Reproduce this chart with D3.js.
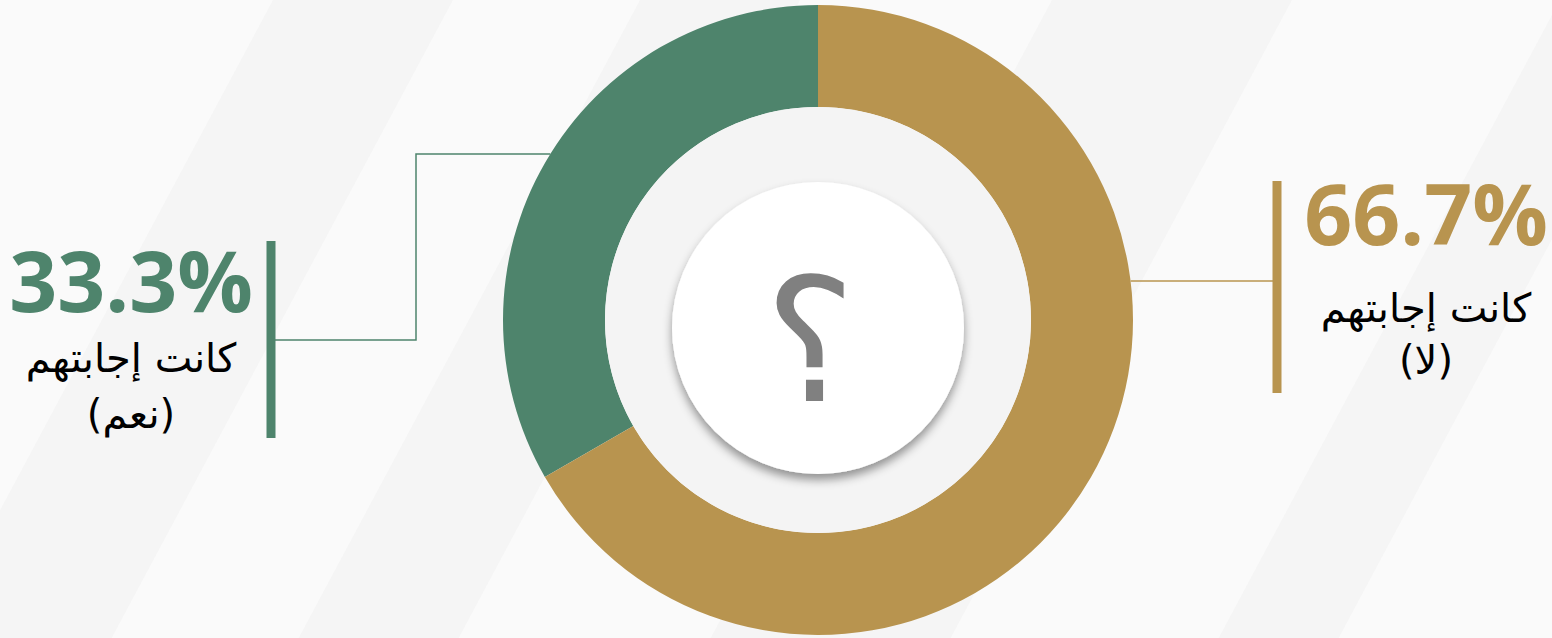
<!DOCTYPE html>
<html>
<head>
<meta charset="utf-8">
<script src="https://cdn.jsdelivr.net/npm/d3@7/dist/d3.min.js"></script>
<style>
  body { margin: 0; background: #fafafa; }
  svg { display: block; }
</style>
</head>
<body>
<div id="chart"></div>
<script>
// data
var answers = ["نعم", "لا"];
var shares = [33.3, 66.7];
var colors = ["#4e846c", "#b8944f"];
var question = "كانت إجابتهم";

(function() {
  var width = 1552, height = 638;
  var cx = 818, cy = 320;
  var outerR = 315, innerR = 213, discR = 146;

  var svg = d3.select("#chart")
    .append("svg")
    .attr("width", width)
    .attr("height", height);

  var defs = svg.append("defs");
  var f = defs.append("filter").attr("id", "shadow")
    .attr("x", "-20%").attr("y", "-20%").attr("width", "140%").attr("height", "140%");
  f.append("feDropShadow")
    .attr("dx", 0).attr("dy", 6).attr("stdDeviation", 5)
    .attr("flood-color", "#000").attr("flood-opacity", 0.4);

  // background with soft diagonal bands
  svg.append("rect").attr("width", width).attr("height", height).attr("fill", "#fafafa");
  var bands = [[273, 180], [640, 160], [1052, 240], [1560, 120]];
  svg.selectAll(".band")
    .data(bands)
    .enter().append("path")
    .attr("class", "band")
    .attr("fill", "#f5f5f5")
    .attr("d", function(d) {
      var k = 0.535 * height;
      return "M" + d[0] + ",0 L" + (d[0] + d[1]) + ",0 L" + (d[0] + d[1] - k) + "," + height +
        " L" + (d[0] - k) + "," + height + "Z";
    });

  var color = d3.scaleOrdinal().domain(answers).range(colors);
  var total = d3.sum(shares);
  var start = -2 * Math.PI * shares[0] / total;

  var pie = d3.pie()
    .value(function(d) { return d.share; })
    .sort(null)
    .startAngle(start)
    .endAngle(start + 2 * Math.PI);

  var arc = d3.arc().innerRadius(innerR).outerRadius(outerR);

  var rows = answers.map(function(a, i) { return { answer: a, share: shares[i] }; });

  var g = svg.append("g").attr("transform", "translate(" + cx + "," + cy + ")");

  g.selectAll(".slice")
    .data(pie(rows))
    .enter().append("path")
    .attr("class", "slice")
    .attr("d", arc)
    .attr("fill", function(d) { return color(d.data.answer); });

  // inner grey disc + white circle
  g.append("circle").attr("r", innerR).attr("fill", "#f4f4f4");
  g.append("circle").attr("cx", 0).attr("cy", 8).attr("r", discR)
    .attr("fill", "#fff").attr("filter", "url(#shadow)");

  g.append("text")
    .attr("x", -8).attr("y", 81)
    .attr("text-anchor", "middle")
    .style("font-family", "'DejaVu Sans'")
    .style("font-size", "172px")
    .attr("fill", "#808080")
    .text("؟");

  var fmt = d3.format(".1f");

  // label settings per answer (layout only)
  var labelPos = [
    { side: -1, lineY: 154, elbowX: 416, endY: 340, barX: 271, bar: [241, 438], tx: 131, py: 312, l1: 372, l2: 428 },
    { side: 1, lineY: 281, elbowX: null, endY: 281, barX: 1277, bar: [181, 393], tx: 1426, py: 245, l1: 322, l2: 374 }
  ];

  answers.forEach(function(a, i) {
    var p = labelPos[i];
    var c = color(a);
    var dy = p.lineY - cy;
    var arcX = cx + p.side * Math.sqrt(outerR * outerR - dy * dy);
    var pts = [[arcX, p.lineY]];
    if (p.elbowX !== null) {
      pts.push([p.elbowX, p.lineY]);
      pts.push([p.elbowX, p.endY]);
    }
    pts.push([p.barX, p.endY]);

    svg.append("path")
      .attr("d", d3.line()(pts))
      .attr("fill", "none")
      .attr("stroke", c)
      .attr("stroke-width", 1.5);

    svg.append("line")
      .attr("x1", p.barX).attr("x2", p.barX)
      .attr("y1", p.bar[0]).attr("y2", p.bar[1])
      .attr("stroke", c)
      .attr("stroke-width", 9);

    svg.append("text")
      .attr("x", p.tx).attr("y", p.py)
      .attr("text-anchor", "middle")
      .style("font-family", "'Open Sans'")
      .style("font-weight", "bold")
      .style("font-size", "84px")
      .attr("fill", c)
      .text(fmt(shares[i]) + "%");

    svg.append("text")
      .attr("x", p.tx).attr("y", p.l1)
      .attr("text-anchor", "middle")
      .style("font-family", "'DejaVu Sans'")
      .style("font-size", "40px")
      .attr("fill", "#000")
      .text(question);

    svg.append("text")
      .attr("x", p.tx).attr("y", p.l2)
      .attr("text-anchor", "middle")
      .style("font-family", "'DejaVu Sans'")
      .style("font-size", "40px")
      .attr("fill", "#000")
      .text("(" + a + ")");
  });
})();
</script>
</body>
</html>
